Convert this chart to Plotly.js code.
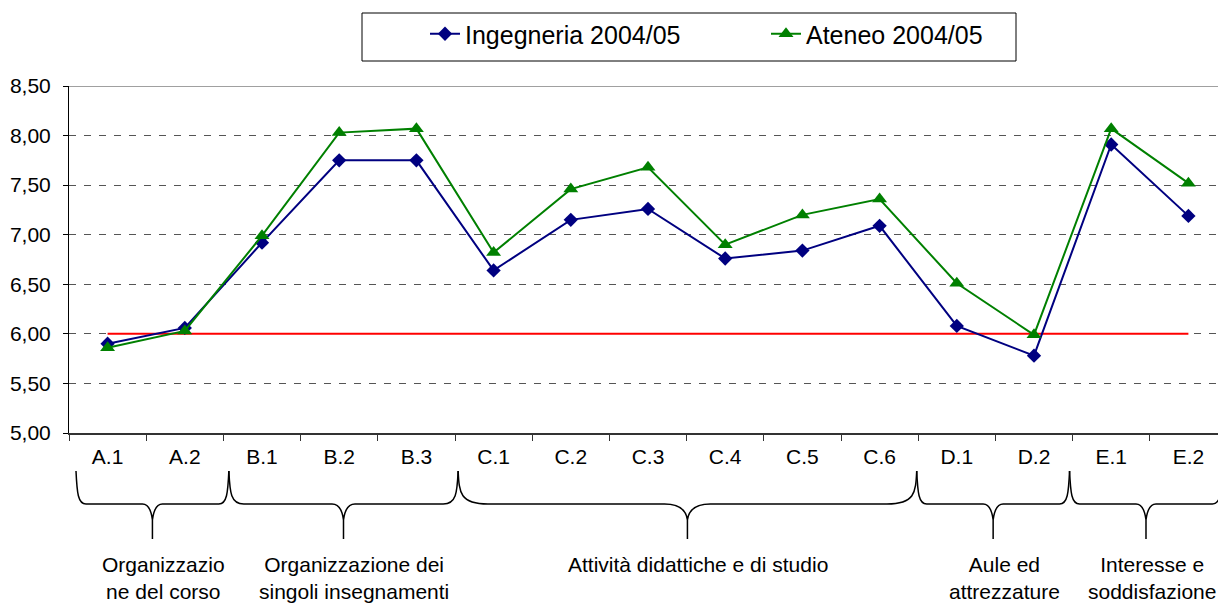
<!DOCTYPE html>
<html>
<head>
<meta charset="utf-8">
<script src="https://cdn.plot.ly/plotly-3.0.1.min.js"></script>
<style>
  html, body { margin: 0; padding: 0; background: #fff; }
  #chart { width: 1218px; height: 604px; }
</style>
</head>
<body>
<div id="chart"></div>
<script>
// ---- data ----
const categories = ['A.1','A.2','B.1','B.2','B.3','C.1','C.2','C.3','C.4','C.5','C.6','D.1','D.2','E.1','E.2'];
const ingegneria = [5.90, 6.06, 6.92, 7.75, 7.75, 6.64, 7.15, 7.26, 6.76, 6.84, 7.09, 6.08, 5.78, 7.91, 7.19];
const ateneo     = [5.86, 6.03, 6.99, 8.03, 8.07, 6.82, 7.46, 7.68, 6.90, 7.20, 7.36, 6.51, 5.99, 8.07, 7.52];
const soglia     = [6.00, 6.00, 6.00, 6.00, 6.00, 6.00, 6.00, 6.00, 6.00, 6.00, 6.00, 6.00, 6.00, 6.00, 6.00];
const seriesNames = ['Ingegneria 2004/05', 'Ateneo 2004/05'];
const groupLabels = ['Organizzazio<br>ne del corso', 'Organizzazione dei<br>singoli insegnamenti',
                     'Attività didattiche e di studio', 'Aule ed<br>attrezzature', 'Interesse e<br>soddisfazione'];
const groupStart = [0, 2, 5, 11, 13];
const groupEnd   = [1, 4, 10, 12, 14];
const yTickVals  = [5.0, 5.5, 6.0, 6.5, 7.0, 7.5, 8.0, 8.5];

// ---- geometry ----
const W = 1218, H = 604;
const M = {l: 69, r: 0, t: 86, b: 171};
const pw = W - M.l - M.r, ph = H - M.t - M.b;
const catW = 77.2;
const xr = [-0.5, -0.5 + pw / catW];
function xpx(i) { return M.l + (i - xr[0]) / (xr[1] - xr[0]) * pw; }
function pxX(p) { return (p - M.l) / pw; }
function pxY(p) { return (H - M.b - p) / ph; }
function P(x, y) { return pxX(x).toFixed(5) + ',' + pxY(y).toFixed(5); }

const FONT = 'Liberation Sans, Arial, sans-serif';

const traces = [
  { x: categories, y: soglia, type: 'scatter', mode: 'lines', showlegend: false, hoverinfo: 'skip',
    line: {color: '#FF0000', width: 2} },
  { x: categories, y: ingegneria, name: seriesNames[0], type: 'scatter', mode: 'lines+markers',
    line: {color: '#000080', width: 2}, marker: {symbol: 'diamond', size: 11, color: '#000080'} },
  { x: categories, y: ateneo, name: seriesNames[1], type: 'scatter', mode: 'lines+markers',
    line: {color: '#008000', width: 2}, marker: {symbol: 'triangle-up', size: 13, color: '#008000'} }
];

// ---- braces & group labels ----
const shapes = [];
const annotations = [];
function bx(i) { return 76 + (xpx(i) - M.l) * 0.99; }
const yTop = 471, yH = 504, yStemTop = 520, yTip = 539;
for (let g = 0; g < groupLabels.length; g++) {
  const L = bx(groupStart[g] - 0.5), R = bx(groupEnd[g] + 0.5);
  const T = bx((groupStart[g] + groupEnd[g]) / 2);
  const span = R - L;
  const c = Math.max(10, span * 0.065);
  const t = Math.max(10, span * 0.05);
  const path = 'M' + P(L, yTop) +
    ' C' + P(L + 1, yTop + 22) + ' ' + P(L + 2, yH) + ' ' + P(L + c, yH) +
    ' L' + P(T - t, yH) +
    ' Q' + P(T - 2, yH) + ' ' + P(T, yStemTop) +
    ' L' + P(T, yTip) +
    ' M' + P(T, yStemTop) +
    ' Q' + P(T + 2, yH) + ' ' + P(T + t, yH) +
    ' L' + P(R - c, yH) +
    ' C' + P(R - 2, yH) + ' ' + P(R - 1, yTop + 22) + ' ' + P(R, yTop);
  shapes.push({type: 'path', xref: 'paper', yref: 'paper', path: path,
               line: {color: '#000', width: 1.5}});
  // keep the label inside the page
  let lx = T + 11;
  lx = Math.min(lx, W - 66);
  annotations.push({xref: 'paper', yref: 'paper', x: pxX(lx), y: pxY(551),
    xanchor: 'center', yanchor: 'top', align: 'center', showarrow: false,
    text: groupLabels[g], font: {family: FONT, size: 21, color: '#000'}});
}
// top border of plot area
shapes.push({type: 'line', xref: 'paper', yref: 'y', x0: 0, x1: 1, y0: 8.5, y1: 8.5,
             line: {color: '#808080', width: 1.5}});
// legend box
shapes.push({type: 'rect', xref: 'paper', yref: 'paper', x0: pxX(362), x1: pxX(1016), y0: pxY(13), y1: pxY(61),
             line: {color: '#000', width: 1}, fillcolor: 'rgba(0,0,0,0)'});

const layout = {
  width: W, height: H,
  margin: {l: M.l, r: M.r, t: M.t, b: M.b, autoexpand: false},
  paper_bgcolor: '#fff', plot_bgcolor: '#fff',
  separators: ',.',
  font: {family: FONT, size: 21, color: '#000'},
  showlegend: true,
  legend: {orientation: 'h', x: pxX(425), y: pxY(34), xanchor: 'left', yanchor: 'middle',
           font: {family: FONT, size: 25, color: '#000'}, borderwidth: 0, bgcolor: 'rgba(0,0,0,0)',
           entrywidth: 296, entrywidthmode: 'pixels'},
  xaxis: {type: 'category', range: xr, tickson: 'boundaries', ticks: 'outside', ticklen: 6,
          tickcolor: '#333', tickwidth: 1, showline: true, linecolor: '#333', linewidth: 2,
          showgrid: false, zeroline: false, fixedrange: true,
          tickfont: {family: FONT, size: 21, color: '#000'}, ticklabelstandoff: 4},
  yaxis: {range: [5, 8.5], tickvals: yTickVals, tickformat: '.2f', ticks: 'outside', ticklen: 5,
          tickcolor: '#000', showline: true, linecolor: '#000', linewidth: 1,
          showgrid: true, gridcolor: '#555', gridwidth: 1, griddash: '7px,8px',
          zeroline: false, fixedrange: true,
          tickfont: {family: FONT, size: 21, color: '#000'}, ticklabelstandoff: 8},
  shapes: shapes,
  annotations: annotations
};

Plotly.newPlot('chart', traces, layout, {displayModeBar: false, staticPlot: true});
</script>
</body>
</html>
